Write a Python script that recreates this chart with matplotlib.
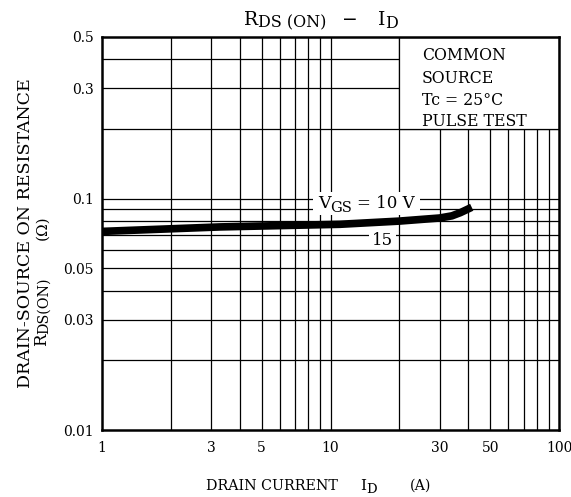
import matplotlib
matplotlib.use("Agg")
import matplotlib.pyplot as plt
from matplotlib.patches import Rectangle
from matplotlib.transforms import IdentityTransform

plt.rcParams['font.family'] = ['DejaVu Serif']

# Data
drain_current = [1, 3.3, 11, 20, 30, 34, 37, 41.5]
r_ds_on = [0.0722, 0.0755, 0.0775, 0.080, 0.0825, 0.0843, 0.087, 0.0918]

x_ticks = [1, 3, 5, 10, 30, 50, 100]
x_tick_labels = ["1", "3", "5", "10", "30", "50", "100"]
y_ticks = [0.01, 0.03, 0.05, 0.1, 0.3, 0.5]
y_tick_labels = ["0.01", "0.03", "0.05", "0.1", "0.3", "0.5"]

x_grid = [2, 3, 4, 5, 6, 7, 8, 9, 10, 20, 30, 40, 50, 60, 70, 80, 90]
y_grid = [0.02, 0.03, 0.04, 0.05, 0.06, 0.07, 0.08, 0.09, 0.1, 0.2, 0.3, 0.4]

legend_lines = ["COMMON", "SOURCE", "Tc = 25°C", "PULSE TEST"]

W, H = 571, 497
fig = plt.figure(figsize=(W / 100, H / 100), dpi=100)
ax = fig.add_axes([102 / W, 67 / H, 457 / W, 393 / H])
ax.set_xscale('log')
ax.set_yscale('log')
ax.set_xlim(1, 100)
ax.set_ylim(0.01, 0.5)

for xv in x_grid:
    ax.axvline(xv, color='black', lw=0.9, zorder=1)
for yv in y_grid:
    ax.axhline(yv, color='black', lw=0.9, zorder=1)

# white legend region (covers grid)
ax.add_patch(Rectangle((20, 0.2), 80, 0.3, facecolor='white', edgecolor='black',
                       lw=0.9, zorder=2))

ax.plot(drain_current, r_ds_on, color='black', lw=5.5, solid_capstyle='butt', zorder=4)

ax.set_xticks(x_ticks)
ax.set_xticklabels(x_tick_labels, fontsize=10)
ax.set_yticks(y_ticks)
ax.set_yticklabels(y_tick_labels, fontsize=10)
ax.minorticks_off()
ax.tick_params(length=0)
ax.tick_params(axis='x', pad=8)
ax.tick_params(axis='y', pad=6)
for s in ax.spines.values():
    s.set_linewidth(1.8)
    s.set_zorder(5)

ident = IdentityTransform()
renderer = fig.canvas.get_renderer()


def ptext(x, y, s, size, rot=0, ha='left', z=6):
    """Place text with its baseline-left anchor at pixel (x, y from top)."""
    return fig.text(x, H - y, s, fontsize=size, transform=ident, ha=ha,
                    va='baseline', rotation=rot, rotation_mode='anchor', zorder=z)


def chain(x, y, pieces, rot=0, center=False):
    """pieces: (text, size, drop, gap_before). Horizontal or rotated 90."""
    texts = []
    pos = 0.0
    for s, size, drop, gap in pieces:
        pos += gap
        t = ptext(0, 0, s, size, rot=rot)
        bb = t.get_window_extent(renderer)
        adv = bb.width if rot == 0 else bb.height
        texts.append((t, pos, drop))
        pos += adv
    shift = -pos / 2 if center else 0.0
    for t, p, drop in texts:
        if rot == 0:
            t.set_position((x + p + shift, H - (y + drop)))
        else:
            t.set_position((x + drop, H - (y - p - shift)))
    return pos


# legend text
for line, base in zip(legend_lines, [60, 83, 105, 126]):
    ptext(422, base, line, 11.3)

# curve labels with white backgrounds
fig.add_artist(Rectangle((313, H - 215), 107, 23, transform=ident,
                         facecolor='white', edgecolor='none', zorder=5))
chain(318, 208, [("V", 12.5, 0, 0), ("GS", 10.5, 4, 0), ("= 10 V", 12, 0, 5)])
fig.add_artist(Rectangle((369, H - 248), 27, 18, transform=ident,
                         facecolor='white', edgecolor='none', zorder=5))
ptext(372, 245, "15", 12)

# title
chain(321, 25, [("R", 13.5, 0, 0), ("DS (ON)", 11.5, 2.5, 0),
                ("\u2212", 13.5, 0, 15), ("I", 13.5, 0, 20), ("D", 11.5, 2.5, 0)],
      center=True)

# x label
ptext(206, 490, "DRAIN CURRENT", 10.3)
chain(360, 490, [("I", 11, 0, 0), ("D", 9.5, 3, 0)])
ptext(410, 490, "(A)", 10.3)

# y label (rotated)
ptext(30, 388, "DRAIN-SOURCE ON RESISTANCE", 12.5, rot=90)
chain(46, 346, [("R", 12, 0, 0), ("DS(ON)", 10.3, 2, 0)], rot=90)
ptext(46, 240, "(\u03a9)", 11, rot=90)

fig.savefig('out.png', dpi=100)
